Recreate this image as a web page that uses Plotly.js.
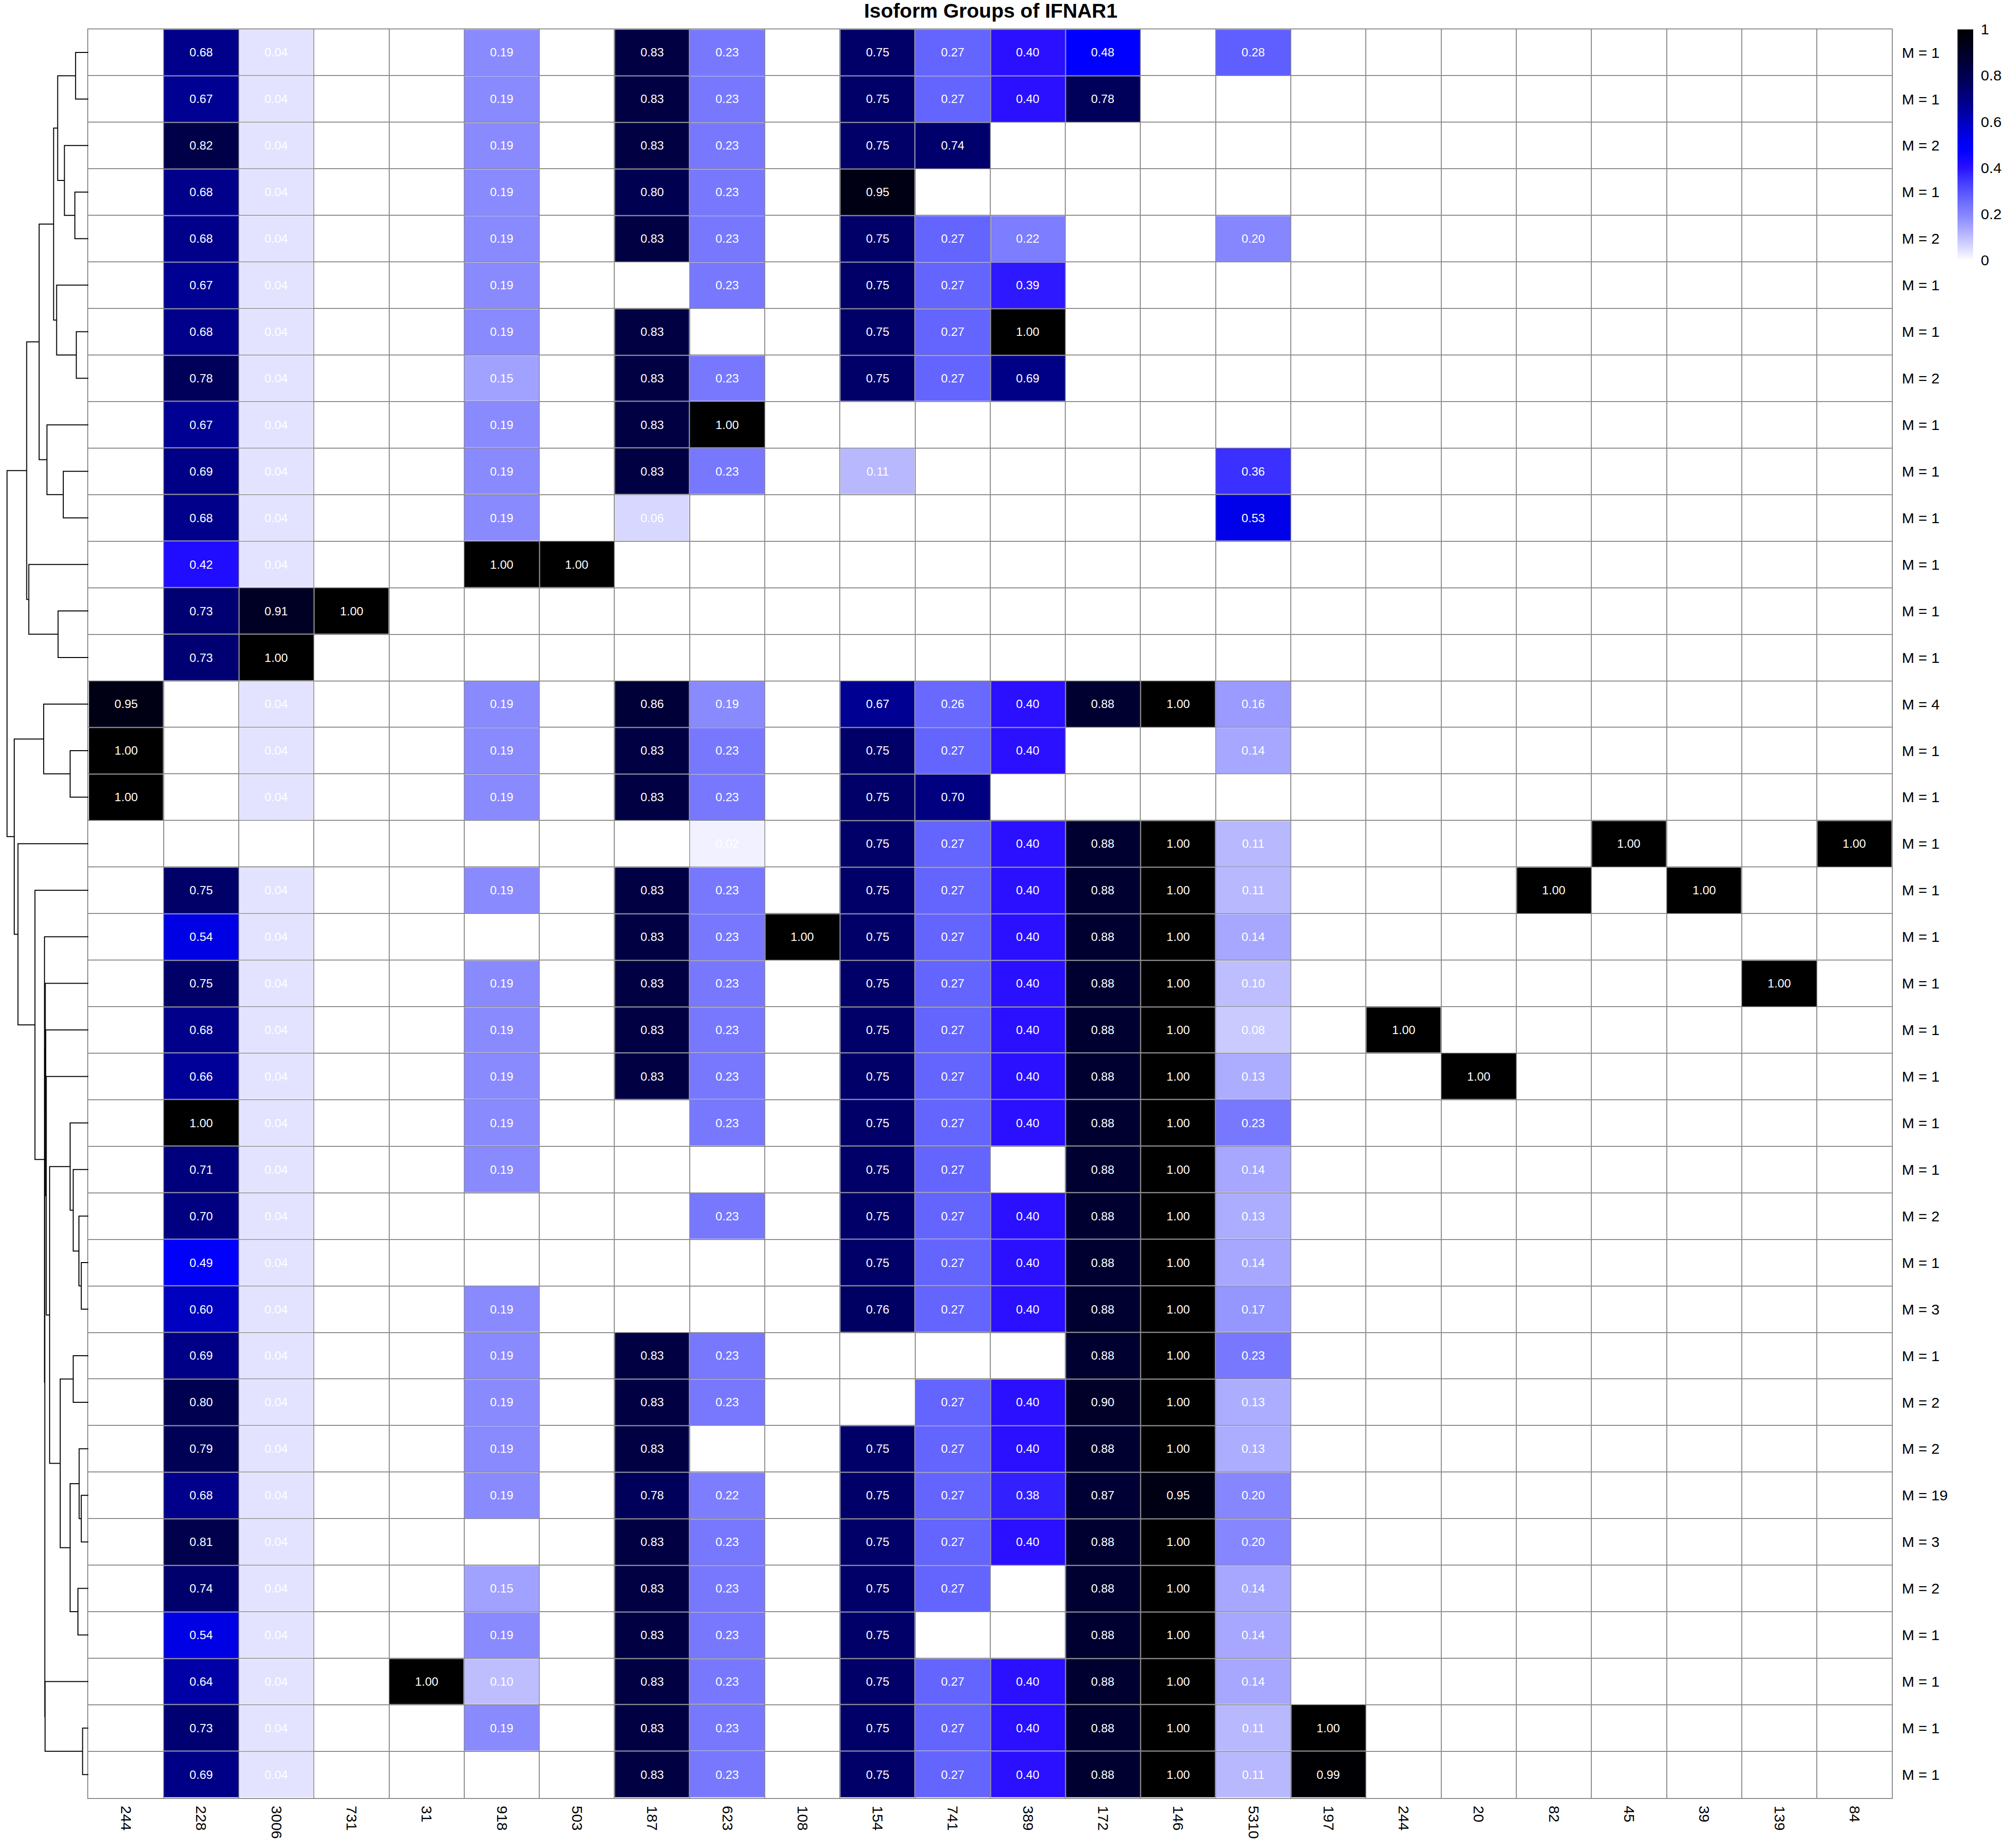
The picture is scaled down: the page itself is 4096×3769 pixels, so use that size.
<!DOCTYPE html>
<html><head><meta charset="utf-8">
<script src="https://cdn.plot.ly/plotly-3.0.1.min.js"></script>
<style>html,body{margin:0;padding:0;background:#fff;} #chart{width:4096px;height:3769px;}</style>
</head><body><div id="chart"></div>
<script>
const _ = null;
const chartTitle = 'Isoform Groups of IFNAR1';
const columnLabels = ['244','228','3006','731','31','918','503','187','623','108','154','741','389','172','146','5310','197','244','20','82','45','39','139','84'];
const groupSizes = [1,1,2,1,2,1,1,2,1,1,1,1,1,1,4,1,1,1,1,1,1,1,1,1,1,2,1,3,1,2,2,19,3,2,1,1,1,1];

// cell values per row (top to bottom), columns in the order of columnLabels; _ = empty cell
const row01 = [_,0.68,0.04,_,_,0.19,_,0.83,0.23,_,0.75,0.27,0.40,0.48,_,0.28,_,_,_,_,_,_,_,_];
const row02 = [_,0.67,0.04,_,_,0.19,_,0.83,0.23,_,0.75,0.27,0.40,0.78,_,_,_,_,_,_,_,_,_,_];
const row03 = [_,0.82,0.04,_,_,0.19,_,0.83,0.23,_,0.75,0.74,_,_,_,_,_,_,_,_,_,_,_,_];
const row04 = [_,0.68,0.04,_,_,0.19,_,0.80,0.23,_,0.95,_,_,_,_,_,_,_,_,_,_,_,_,_];
const row05 = [_,0.68,0.04,_,_,0.19,_,0.83,0.23,_,0.75,0.27,0.22,_,_,0.20,_,_,_,_,_,_,_,_];
const row06 = [_,0.67,0.04,_,_,0.19,_,_,0.23,_,0.75,0.27,0.39,_,_,_,_,_,_,_,_,_,_,_];
const row07 = [_,0.68,0.04,_,_,0.19,_,0.83,_,_,0.75,0.27,1.00,_,_,_,_,_,_,_,_,_,_,_];
const row08 = [_,0.78,0.04,_,_,0.15,_,0.83,0.23,_,0.75,0.27,0.69,_,_,_,_,_,_,_,_,_,_,_];
const row09 = [_,0.67,0.04,_,_,0.19,_,0.83,1.00,_,_,_,_,_,_,_,_,_,_,_,_,_,_,_];
const row10 = [_,0.69,0.04,_,_,0.19,_,0.83,0.23,_,0.11,_,_,_,_,0.36,_,_,_,_,_,_,_,_];
const row11 = [_,0.68,0.04,_,_,0.19,_,0.06,_,_,_,_,_,_,_,0.53,_,_,_,_,_,_,_,_];
const row12 = [_,0.42,0.04,_,_,1.00,1.00,_,_,_,_,_,_,_,_,_,_,_,_,_,_,_,_,_];
const row13 = [_,0.73,0.91,1.00,_,_,_,_,_,_,_,_,_,_,_,_,_,_,_,_,_,_,_,_];
const row14 = [_,0.73,1.00,_,_,_,_,_,_,_,_,_,_,_,_,_,_,_,_,_,_,_,_,_];
const row15 = [0.95,_,0.04,_,_,0.19,_,0.86,0.19,_,0.67,0.26,0.40,0.88,1.00,0.16,_,_,_,_,_,_,_,_];
const row16 = [1.00,_,0.04,_,_,0.19,_,0.83,0.23,_,0.75,0.27,0.40,_,_,0.14,_,_,_,_,_,_,_,_];
const row17 = [1.00,_,0.04,_,_,0.19,_,0.83,0.23,_,0.75,0.70,_,_,_,_,_,_,_,_,_,_,_,_];
const row18 = [_,_,_,_,_,_,_,_,0.02,_,0.75,0.27,0.40,0.88,1.00,0.11,_,_,_,_,1.00,_,_,1.00];
const row19 = [_,0.75,0.04,_,_,0.19,_,0.83,0.23,_,0.75,0.27,0.40,0.88,1.00,0.11,_,_,_,1.00,_,1.00,_,_];
const row20 = [_,0.54,0.04,_,_,_,_,0.83,0.23,1.00,0.75,0.27,0.40,0.88,1.00,0.14,_,_,_,_,_,_,_,_];
const row21 = [_,0.75,0.04,_,_,0.19,_,0.83,0.23,_,0.75,0.27,0.40,0.88,1.00,0.10,_,_,_,_,_,_,1.00,_];
const row22 = [_,0.68,0.04,_,_,0.19,_,0.83,0.23,_,0.75,0.27,0.40,0.88,1.00,0.08,_,1.00,_,_,_,_,_,_];
const row23 = [_,0.66,0.04,_,_,0.19,_,0.83,0.23,_,0.75,0.27,0.40,0.88,1.00,0.13,_,_,1.00,_,_,_,_,_];
const row24 = [_,1.00,0.04,_,_,0.19,_,_,0.23,_,0.75,0.27,0.40,0.88,1.00,0.23,_,_,_,_,_,_,_,_];
const row25 = [_,0.71,0.04,_,_,0.19,_,_,_,_,0.75,0.27,_,0.88,1.00,0.14,_,_,_,_,_,_,_,_];
const row26 = [_,0.70,0.04,_,_,_,_,_,0.23,_,0.75,0.27,0.40,0.88,1.00,0.13,_,_,_,_,_,_,_,_];
const row27 = [_,0.49,0.04,_,_,_,_,_,_,_,0.75,0.27,0.40,0.88,1.00,0.14,_,_,_,_,_,_,_,_];
const row28 = [_,0.60,0.04,_,_,0.19,_,_,_,_,0.76,0.27,0.40,0.88,1.00,0.17,_,_,_,_,_,_,_,_];
const row29 = [_,0.69,0.04,_,_,0.19,_,0.83,0.23,_,_,_,_,0.88,1.00,0.23,_,_,_,_,_,_,_,_];
const row30 = [_,0.80,0.04,_,_,0.19,_,0.83,0.23,_,_,0.27,0.40,0.90,1.00,0.13,_,_,_,_,_,_,_,_];
const row31 = [_,0.79,0.04,_,_,0.19,_,0.83,_,_,0.75,0.27,0.40,0.88,1.00,0.13,_,_,_,_,_,_,_,_];
const row32 = [_,0.68,0.04,_,_,0.19,_,0.78,0.22,_,0.75,0.27,0.38,0.87,0.95,0.20,_,_,_,_,_,_,_,_];
const row33 = [_,0.81,0.04,_,_,_,_,0.83,0.23,_,0.75,0.27,0.40,0.88,1.00,0.20,_,_,_,_,_,_,_,_];
const row34 = [_,0.74,0.04,_,_,0.15,_,0.83,0.23,_,0.75,0.27,_,0.88,1.00,0.14,_,_,_,_,_,_,_,_];
const row35 = [_,0.54,0.04,_,_,0.19,_,0.83,0.23,_,0.75,_,_,0.88,1.00,0.14,_,_,_,_,_,_,_,_];
const row36 = [_,0.64,0.04,_,1.00,0.10,_,0.83,0.23,_,0.75,0.27,0.40,0.88,1.00,0.14,_,_,_,_,_,_,_,_];
const row37 = [_,0.73,0.04,_,_,0.19,_,0.83,0.23,_,0.75,0.27,0.40,0.88,1.00,0.11,1.00,_,_,_,_,_,_,_];
const row38 = [_,0.69,0.04,_,_,_,_,0.83,0.23,_,0.75,0.27,0.40,0.88,1.00,0.11,0.99,_,_,_,_,_,_,_];

// row dendrogram (hclust style: negative = row number, positive = earlier merge number)
const mergeA = [-1,-4,-3,1,-7,-6,4,-10,-9,7,-13,-12,10,-16,-15,-27,-26,-25,-24,-29,-32,-31,-34,22,20,19,-23,-22,-21,-37,-36,29,-20,-19,-18,15,13];
const mergeB = [-2,-5,2,3,-8,5,6,-11,8,9,-14,11,12,-17,14,-28,16,17,18,-30,-33,21,-35,23,24,25,26,27,28,-38,30,31,32,33,34,35,36];
const mergeHeight = [0.158,0.167,0.295,0.378,0.149,0.391,0.428,0.309,0.510,0.606,0.373,0.733,0.759,0.225,0.550,0.088,0.117,0.187,0.225,0.187,0.088,0.114,0.129,0.225,0.347,0.477,0.518,0.525,0.530,0.072,0.533,0.536,0.540,0.657,0.866,0.912,1.000];

const z = [row01,row02,row03,row04,row05,row06,row07,row08,row09,row10,row11,row12,row13,row14,row15,row16,row17,row18,row19,row20,row21,row22,row23,row24,row25,row26,row27,row28,row29,row30,row31,row32,row33,row34,row35,row36,row37,row38];
const nRows = z.length, nCols = columnLabels.length;
const colIdx = columnLabels.map((_, i) => i);
const rowIdx = z.map((_, i) => i);
const cellText = z.map(r => r.map(v => v === null ? '' : v.toFixed(2)));
const colBounds = [...Array(nCols + 1).keys()].map(i => i - 0.5);
const rowBounds = [...Array(nRows + 1).keys()].map(i => i - 0.5);

// dendrogram segments
const nodePos = [];
const dx = [], dy = [];
function child(c) { return c < 0 ? {y: -c - 1, h: 0} : {y: nodePos[c - 1], h: mergeHeight[c - 1]}; }
for (let i = 0; i < mergeA.length; i++) {
  const a = child(mergeA[i]), b = child(mergeB[i]), h = mergeHeight[i];
  dx.push(a.h, h, h, b.h, null);
  dy.push(a.y, a.y, b.y, b.y, null);
  nodePos[i] = (a.y + b.y) / 2;
}

const W = 4096, H = 3769;
const gridCol = '#8c8c8c';
const font = 'Liberation Sans, Arial, Helvetica, sans-serif';
const yDomain = [1 - 3666.8 / H, 1 - 59.5 / H];
const yRange = [nRows - 0.5, -0.5];

const heat = {
  type: 'heatmap', x: colIdx, y: rowIdx, z: z,
  text: cellText, texttemplate: '%{text}',
  textfont: {family: font, size: 24.5, color: '#ffffff'},
  zmin: 0, zmax: 1, xgap: 2, ygap: 2, hoverinfo: 'skip',
  colorscale: [
    [0, '#ffffff'], [0.04, '#e3e3ff'], [0.11, '#b8b8ff'], [0.19, '#8a8aff'],
    [0.23, '#7878ff'], [0.27, '#6464ff'], [0.36, '#3a30ff'], [0.40, '#2a10ff'],
    [0.48, '#0000ff'], [0.54, '#0000e4'], [0.60, '#0000c0'], [0.68, '#00008b'],
    [0.75, '#000068'], [0.83, '#000043'], [0.88, '#000030'], [1, '#000000']
  ],
  colorbar: {
    x: 3993 / W, xanchor: 'left', xpad: 0, y: 1 - 59.6 / H, yanchor: 'top', ypad: 0,
    thickness: 32, thicknessmode: 'pixels', len: 470.5, lenmode: 'pixels',
    outlinewidth: 0, tickmode: 'array', tickvals: [0, 0.2, 0.4, 0.6, 0.8, 1],
    ticktext: ['0', '0.2', '0.4', '0.6', '0.8', '1'],
    ticks: 'outside', ticklen: 10, tickcolor: 'rgba(0,0,0,0)',
    tickfont: {family: font, size: 30.4, color: '#000'}
  }
};

const dendro = {
  type: 'scatter', mode: 'lines', x: dx, y: dy, xaxis: 'x2', yaxis: 'y2',
  line: {color: '#000000', width: 2}, hoverinfo: 'skip', showlegend: false
};

const layout = {
  width: W, height: H, margin: {l: 0, r: 0, t: 0, b: 0},
  paper_bgcolor: '#ffffff', plot_bgcolor: '#ffffff', showlegend: false,
  font: {family: font, color: '#000'},
  title: {text: chartTitle, font: {family: font, size: 41, weight: 'bold', color: '#000'},
          x: 2021 / W, xanchor: 'center', y: 1 - 22 / H, yanchor: 'middle'},
  xaxis: {
    domain: [180.4 / W, 3859.4 / W], range: [-0.5, nCols - 0.5], anchor: 'y',
    tickmode: 'array', tickvals: colIdx, ticktext: columnLabels, tickangle: 90,
    tickfont: {family: font, size: 30.4, color: '#000'}, ticks: '', ticklabelstandoff: 8,
    showgrid: false, zeroline: false, showline: true, mirror: true, linecolor: gridCol, linewidth: 2,
    minor: {tickmode: 'array', tickvals: colBounds, showgrid: true, gridcolor: gridCol, gridwidth: 2, ticks: ''}
  },
  yaxis: {
    domain: yDomain, range: yRange, anchor: 'x', side: 'right',
    tickmode: 'array', tickvals: rowIdx, ticktext: groupSizes.map(m => 'M = ' + m),
    tickfont: {family: font, size: 30.4, color: '#000'}, ticks: '', ticklabelstandoff: 12,
    showgrid: false, zeroline: false, showline: true, mirror: true, linecolor: gridCol, linewidth: 2,
    minor: {tickmode: 'array', tickvals: rowBounds, showgrid: true, gridcolor: gridCol, gridwidth: 2, ticks: ''}
  },
  xaxis2: {
    domain: [0, 180.4 / W], range: [1.0867, 0], anchor: 'y2', visible: false,
    showgrid: false, zeroline: false
  },
  yaxis2: {
    domain: yDomain, range: yRange, anchor: 'x2', visible: false,
    showgrid: false, zeroline: false
  }
};

Plotly.newPlot('chart', [dendro, heat], layout, {staticPlot: true, displayModeBar: false});
</script></body></html>
